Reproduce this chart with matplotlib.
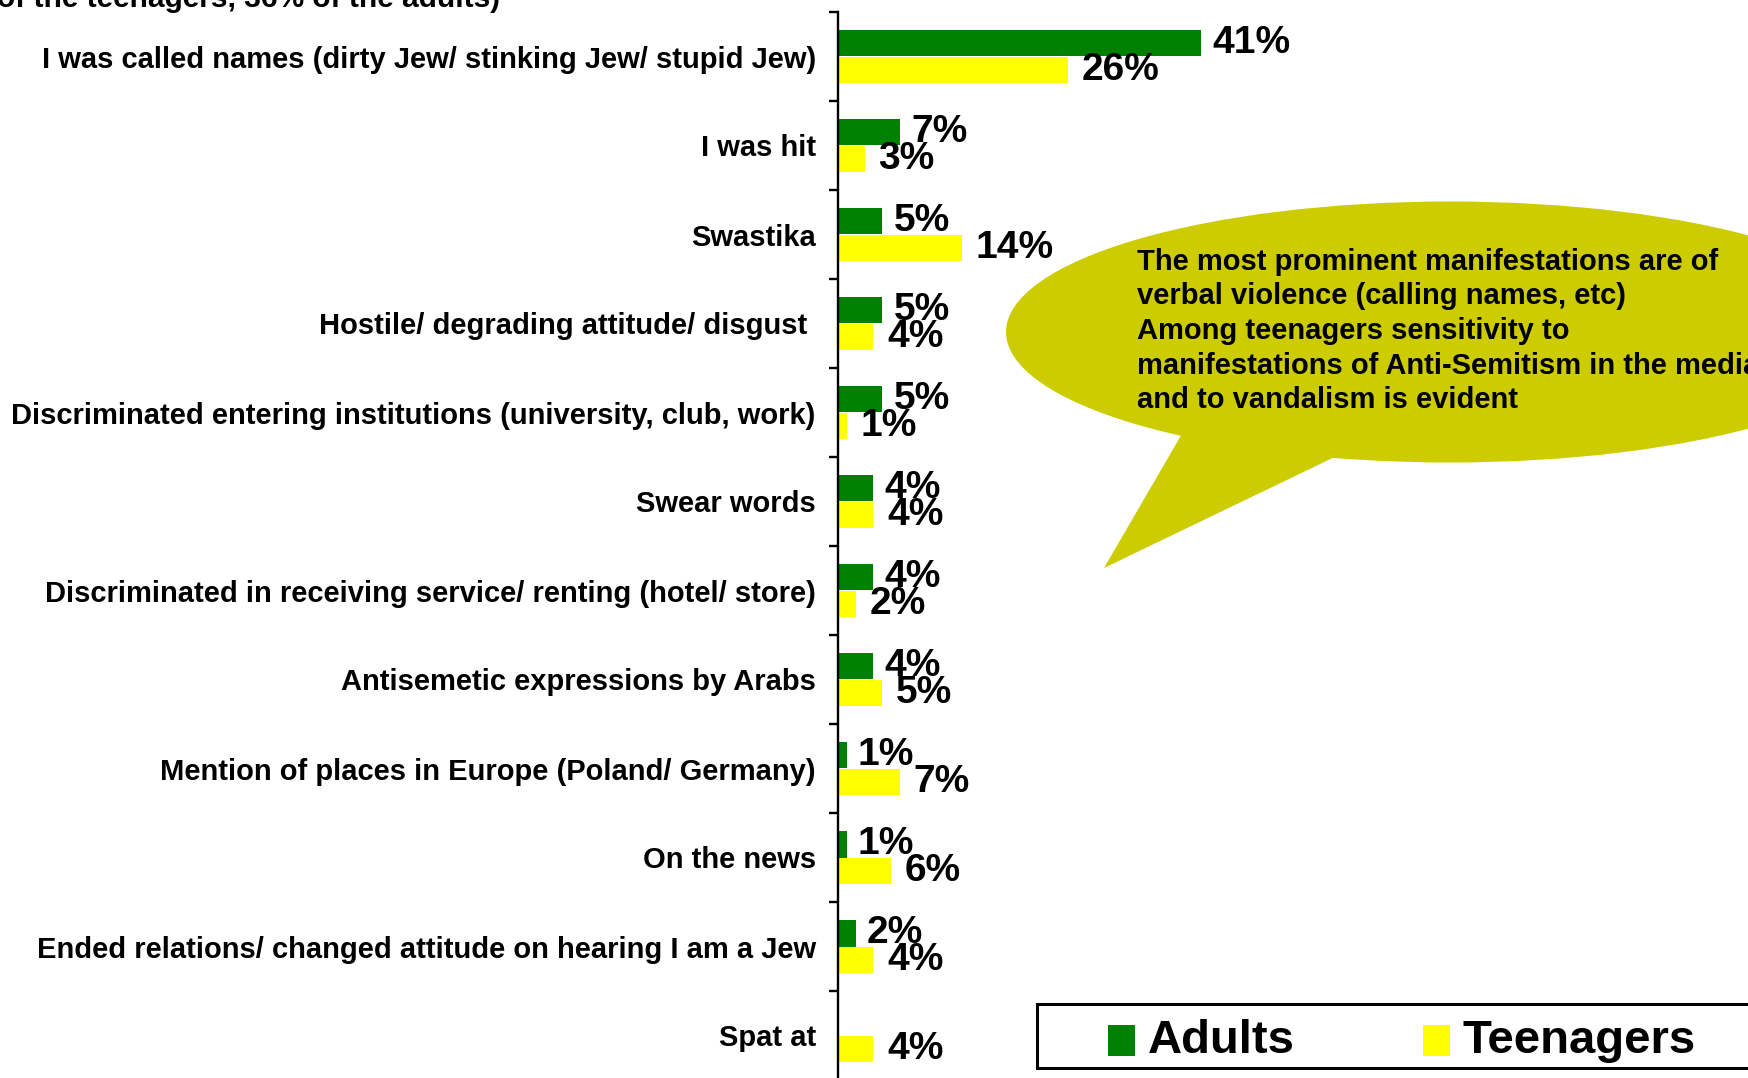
import numpy as np
import matplotlib
matplotlib.use("Agg")
import matplotlib.pyplot as plt
from matplotlib.patches import Ellipse, Polygon, Rectangle

# data
categories = [
    "I was called names (dirty Jew/ stinking Jew/ stupid Jew)",
    "I was hit",
    "Swastika",
    "Hostile/ degrading attitude/ disgust ",
    "Discriminated entering institutions (university, club, work)",
    "Swear words",
    "Discriminated in receiving service/ renting (hotel/ store)",
    "Antisemetic expressions by Arabs",
    "Mention of places in Europe (Poland/ Germany)",
    "On the news",
    "Ended relations/ changed attitude on hearing I am a Jew",
    "Spat at",
]
adults = [41, 7, 5, 5, 5, 4, 4, 4, 1, 1, 2, np.nan]
teenagers = [26, 3, 14, 4, 1, 4, 2, 5, 7, 6, 4, 4]
series_names = ["Adults", "Teenagers"]
series_colors = ["#008000", "#FFFF00"]

title_tail = "of the teenagers, 36% of the adults)"
callout_text = ("The most prominent manifestations are of\n"
                "verbal violence (calling names, etc)\n"
                "Among teenagers sensitivity to\n"
                "manifestations of Anti-Semitism in the media\n"
                "and to vandalism is evident")

W, H = 1749, 1078
BOLD = ["Liberation Sans", "DejaVu Sans"]

fig = plt.figure(figsize=(W / 100, H / 100), dpi=100)
fig.patch.set_facecolor("white")

# main bar axes, in pixel placement
ax_left, ax_top, ax_bottom = 838, 12, 1080
ax = fig.add_axes([ax_left / W, 1 - ax_bottom / H, 1 - ax_left / W, (ax_bottom - ax_top) / H])
px_per_pct = 8.85
ax.set_xlim(0, (W - ax_left) / px_per_pct)
n = len(categories)
ax.set_ylim(n - 0.5, -0.5)

y = np.arange(n)
bh = 0.30
ax.barh(y - bh / 2, adults, height=bh, color=series_colors[0], label=series_names[0], zorder=2)
ax.barh(y + bh / 2, teenagers, height=bh, color=series_colors[1], label=series_names[1], zorder=2)

# value labels; teenager labels sit a little further out as in the original
for vals, off, pad in ((adults, -bh / 2, 8), (teenagers, bh / 2, 10)):
    for i, v in enumerate(vals):
        if np.isnan(v):
            continue
        ax.annotate(f"{v:.0f}%", (v, i + off), xytext=(pad, 0), textcoords="offset points",
                    ha="left", va="center", fontsize=28, fontweight="bold",
                    family=BOLD, color="black", zorder=4, annotation_clip=False)

for s in ("top", "right", "bottom"):
    ax.spines[s].set_visible(False)
ax.spines["left"].set_linewidth(1.7)
ax.set_xticks([])
ax.set_yticks(np.arange(n) - 0.5)
ax.set_yticklabels([])
ax.tick_params(axis="y", which="major", direction="out", length=6.5, width=1.7)
ax.set_yticks(y, minor=True)
ax.set_yticklabels(categories, minor=True, fontsize=21, fontweight="bold", family=BOLD)
ax.tick_params(axis="y", which="minor", length=0, pad=16)
ax.patch.set_alpha(0)

# overlay in pixel coordinates for callout, legend and cut title
ov = fig.add_axes([0, 0, 1, 1])
ov.set_xlim(0, W)
ov.set_ylim(H, 0)
ov.axis("off")
ov.patch.set_alpha(0)

ov.text(-3, 7, title_tail, ha="left", va="baseline", fontsize=21.5,
        fontweight="bold", family=BOLD)

callout_color = "#CCCC00"
ov.add_patch(Ellipse((1450, 332), 888, 261, facecolor=callout_color, edgecolor="none", zorder=1))
ov.add_patch(Polygon([(1190, 420), (1104, 568), (1370, 440)], closed=True,
                     facecolor=callout_color, edgecolor="none", zorder=1))
ov.text(1137, 331, callout_text, ha="left", va="center", fontsize=21,
        fontweight="bold", family=BOLD, linespacing=1.3, zorder=2)

# legend box, cut at the right edge like the original
ov.add_patch(Rectangle((1037, 1004), 760, 64, facecolor="white", edgecolor="black",
                       linewidth=2.2, zorder=3, clip_on=False))
for name, color, x0 in zip(series_names, series_colors, (1108, 1423)):
    ov.add_patch(Rectangle((x0, 1025), 27, 31, facecolor=color, edgecolor="none", zorder=4))
    ov.text(x0 + 40, 1041, name, ha="left", va="center", fontsize=34,
            fontweight="bold", family=BOLD, zorder=4)

fig.savefig("out.png", dpi=100)
